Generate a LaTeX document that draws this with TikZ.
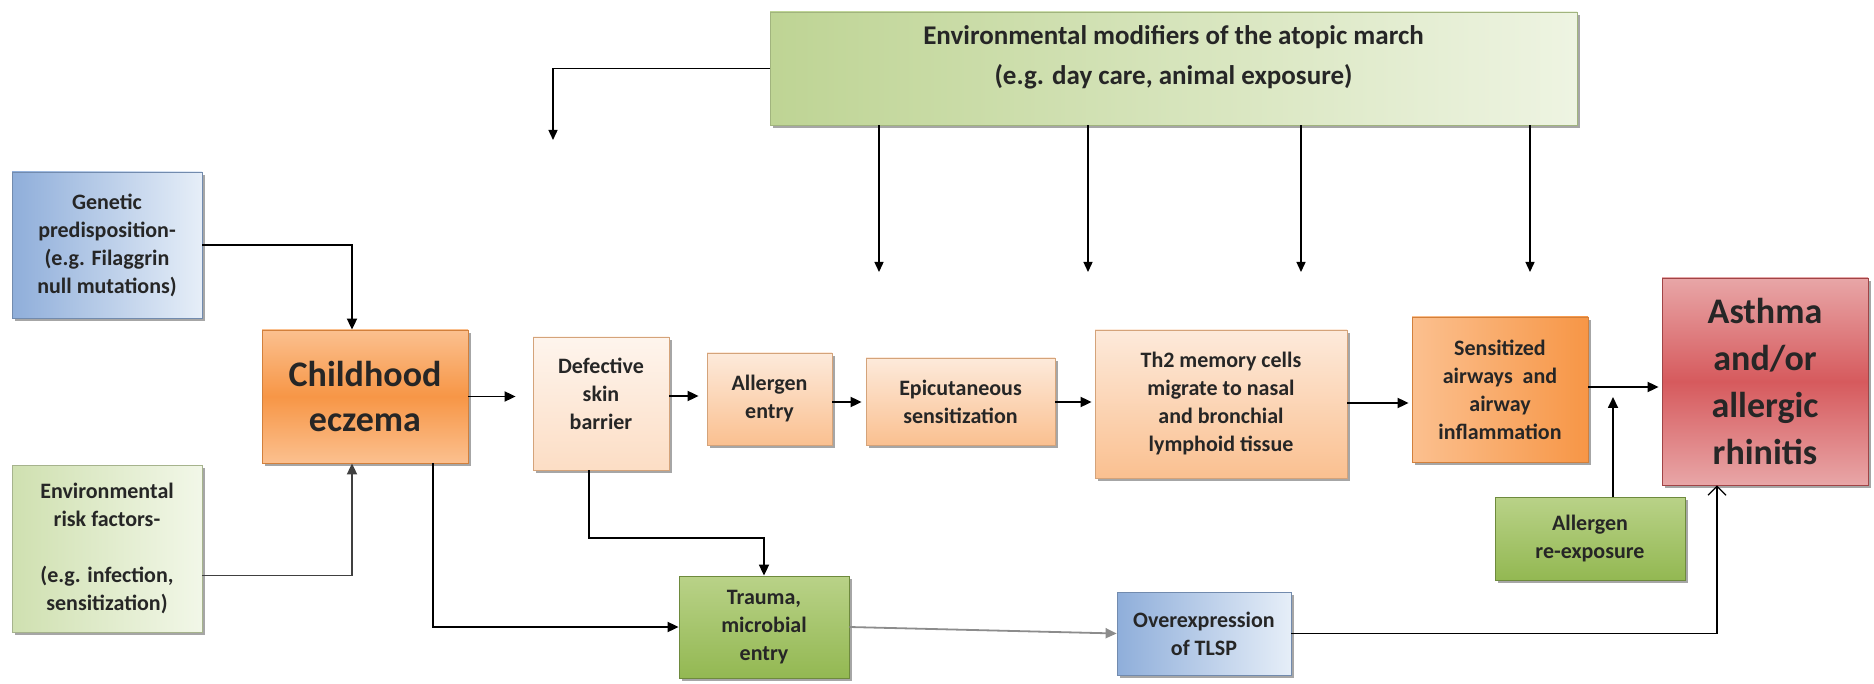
\documentclass[tikz,border=0pt]{standalone}
\usepackage{fontspec}
\setmainfont{Carlito}
\usetikzlibrary{arrows.meta,shadows}
\definecolor{blueA}{HTML}{8FAEDA}
\definecolor{blueL}{HTML}{E6EEF8}
\definecolor{rgreen}{HTML}{CFE0B0}
\definecolor{rgreenL}{HTML}{F2F7E8}
\definecolor{envD}{HTML}{BED494}
\definecolor{envL}{HTML}{EEF4E2}
\definecolor{orng}{HTML}{F79646}
\definecolor{orngL}{HTML}{FBC08F}
\definecolor{peach}{HTML}{FAC090}
\definecolor{peachL}{HTML}{FDEADB}
\definecolor{redM}{HTML}{D65A5D}
\definecolor{redL}{HTML}{E8A6A7}
\definecolor{grn}{HTML}{93B852}
\definecolor{grnL}{HTML}{B9D288}
\definecolor{txt}{HTML}{262626}
\tikzset{
  box/.style={rectangle, draw, line width=0.8pt, align=center, inner sep=0pt,
    font=\bfseries\fontsize{22}{28}\selectfont, text=txt,
    drop shadow={shadow xshift=3pt, shadow yshift=-3pt, fill=black, opacity=0.35}},
  bluebox/.style={box, draw=blueA!80!black, left color=blueA, right color=blueL},
  riskbox/.style={box, draw=rgreen!80!black, left color=rgreen, right color=rgreenL},
  envbox/.style={box, draw=envD!85!black, left color=envD, right color=envL},
  orbox/.style={box, draw=orng!85!black, top color=orngL, bottom color=orngL, middle color=orng},
  senbox/.style={box, draw=orng!85!black, left color=orngL, right color=orng},
  pbox/.style={box, draw=peach!85!black, top color=peachL, bottom color=peach},
  defbox/.style={box, draw=peach!85!black, top color=peachL!50!white, bottom color=peachL!70!peach},
  redbox/.style={box, draw=redM!75!black, top color=redL, bottom color=redL, middle color=redM},
  grnbox/.style={box, draw=grn!75!black, top color=grnL, bottom color=grn},
  arr/.style={line width=1.8pt, draw=black, -{Triangle[length=11pt,width=10pt]}},
  thinarr/.style={line width=1.4pt, draw=black, -{Triangle[length=10pt,width=9pt]}},
}
\begin{document}
\begin{tikzpicture}[x=1pt,y=-1pt]
\useasboundingbox (0,0) rectangle (1874,684);
% nodes
\node[envbox, minimum width=807pt, minimum height=113pt, font=\bfseries\fontsize{27}{40}\selectfont] (env) at (1173.5,68.5)
  {Environmental modifiers of the atopic march\\(e.g. day care, animal exposure)\\[-14pt]\mbox{}};
\node[bluebox, minimum width=190pt, minimum height=146pt] (gen) at (107,245)
  {Genetic\\predisposition-\\(e.g. Filaggrin\\null mutations)};
\node[riskbox, minimum width=190pt, minimum height=167pt] (risk) at (107,548.5)
  {Environmental\\risk factors-\\\mbox{}\\(e.g. infection,\\sensitization)};
\node[orbox, minimum width=206pt, minimum height=133pt, font=\bfseries\fontsize{36}{45}\selectfont] (ecz) at (365,396.5)
  {Childhood\\eczema};
\node[defbox, minimum width=136pt, minimum height=133pt] (def) at (601,403.5)
  {Defective\\skin\\barrier\\[-8pt]\mbox{}};
\node[pbox, minimum width=125pt, minimum height=92pt] (ent) at (769.5,399)
  {Allergen\\entry};
\node[pbox, minimum width=189pt, minimum height=87pt] (epi) at (960.5,401.5)
  {Epicutaneous\\sensitization};
\node[pbox, minimum width=252pt, minimum height=148pt] (th2) at (1221,404)
  {Th2 memory cells\\migrate to nasal\\and bronchial\\lymphoid tissue};
\node[senbox, minimum width=176pt, minimum height=145pt] (sen) at (1500,389.5)
  {Sensitized\\airways~ and\\airway\\inflammation};
\node[redbox, minimum width=206pt, minimum height=207pt, font=\bfseries\fontsize{36}{47}\selectfont] (ast) at (1765,381.5)
  {Asthma\\and/or\\allergic\\rhinitis};
\node[grnbox, minimum width=190pt, minimum height=83pt] (rex) at (1590,538.5)
  {Allergen\\re-exposure};
\node[grnbox, minimum width=170pt, minimum height=102pt] (tra) at (764,627)
  {Trauma,\\microbial\\entry};
\node[bluebox, minimum width=174pt, minimum height=83pt] (ove) at (1204,633.5)
  {Overexpression\\of TLSP};
% free ends
\coordinate (e0) at (553,140);
\coordinate (e1) at (879,272);
\coordinate (e2) at (1088,272);
\coordinate (e3) at (1301,272);
\coordinate (e4) at (1530,272);
\coordinate (rj) at (1613,397);
% connectors
\draw[thinarr] (env.west) -| (e0);
\draw[thinarr] (env.south -| e1) -- (e1);
\draw[thinarr] (env.south -| e2) -- (e2);
\draw[thinarr] (env.south -| e3) -- (e3);
\draw[thinarr] (env.south -| e4) -- (e4);
\draw[arr] (gen.east) -| ([xshift=-13pt]ecz.north);
\draw[arr, draw=black!75] ([yshift=-27pt]risk.east) -| ([xshift=-13pt]ecz.south);
\draw[arr, shorten >=17pt] (ecz.east) -- (def.west |- ecz.east);
\draw[arr, shorten >=8pt] (def.east |- 0,396) -- (ent.west |- 0,396);
\draw[arr, shorten >=4pt] (ent.east |- 0,402) -- (epi.west |- 0,402);
\draw[arr, shorten >=3pt] (epi.east |- 0,402) -- (th2.west |- 0,402);
\draw[arr, shorten >=3pt] (th2.east |- 0,403) -- (sen.west |- 0,403);
\draw[arr, shorten >=3pt] (sen.east |- 0,387) -- (ast.west |- 0,387);
\draw[arr] (rex.north -| rj) -- (rj);
\draw[arr] (def.south -| 589,0) |- (764,538) -- (tra.north);
\draw[arr] ([xshift=68pt]ecz.south) |- (tra.west);
\draw[arr, draw=black!45] (tra.east) -- (ove.west);
\draw[line width=1.6pt, -{Straight Barb[length=9pt,width=18pt,line width=1.2pt]}] (ove.east) -| ([xshift=-48pt]ast.south);
\end{tikzpicture}
\end{document}
